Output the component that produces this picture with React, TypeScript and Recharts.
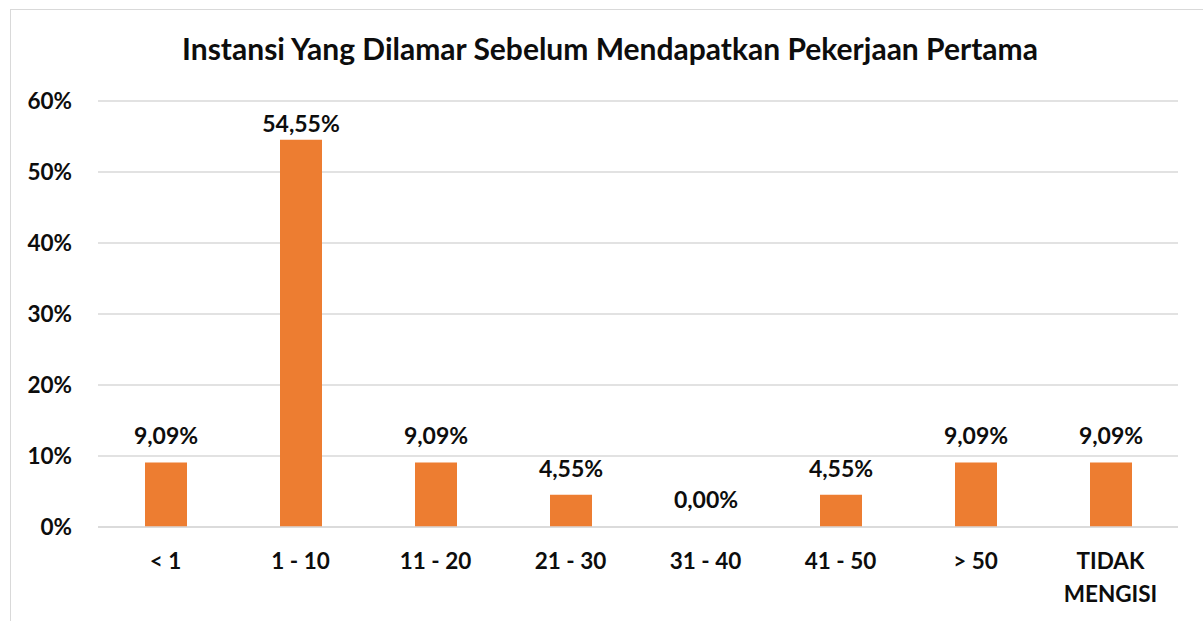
import React from 'react';
import { BarChart, Bar, XAxis, YAxis, CartesianGrid, LabelList, Cell, Text } from 'recharts';

const categories = ['< 1', '1 - 10', '11 - 20', '21 - 30', '31 - 40', '41 - 50', '> 50', 'TIDAK MENGISI'];
const percentages = [9.09, 54.55, 9.09, 4.55, 0, 4.55, 9.09, 9.09];
const yTicks = [0, 10, 20, 30, 40, 50, 60];

const chartData = categories.map((name, i) => ({ name, value: percentages[i] }));

const FONT = 'Lato, "Open Sans", sans-serif';
const INK = '#0d0d0d';
const PLOT_TOP = 101;

// category labels wrap like the spreadsheet ("TIDAK MENGISI" goes onto two lines)
const CategoryTick = (props: any) => {
  const { x, y, payload } = props;
  return (
    <Text
      x={x}
      y={y}
      width={120}
      textAnchor="middle"
      verticalAnchor="start"
      lineHeight={33}
      fontFamily={FONT}
      fontWeight={700}
      fontSize={22.5}
      fill={INK}
    >
      {payload.value}
    </Text>
  );
};

// value label above the bar, kept inside the plot area like Excel does for the tall bar
const ValueLabel = (props: any) => {
  const { x, y, width, value } = props;
  const baseline = Math.max(Number(y) - 18, PLOT_TOP + 31);
  return (
    <text
      x={Number(x) + Number(width) / 2}
      y={baseline}
      textAnchor="middle"
      fontFamily={FONT}
      fontWeight={700}
      fontSize={23}
      fill={INK}
    >
      {`${Number(value).toFixed(2).replace('.', ',')}%`}
    </text>
  );
};

export default function App() {
  return (
    <div style={{ position: 'absolute', left: 0, top: 0, width: 1203, height: 621, background: '#fff', overflow: 'hidden' }}>
      <div
        style={{
          position: 'absolute',
          left: 10,
          top: 9,
          width: 1200,
          height: 620,
          border: '1px solid #d9d9d9',
          boxSizing: 'border-box',
        }}
      />
      <div
        style={{
          position: 'absolute',
          left: 0,
          top: 30,
          width: 1220,
          lineHeight: '36px',
          textAlign: 'center',
          fontFamily: FONT,
          fontWeight: 700,
          fontSize: 30,
          color: INK,
        }}
      >
        Instansi Yang Dilamar Sebelum Mendapatkan Pekerjaan Pertama
      </div>
      <div style={{ position: 'absolute', left: 0, top: 0 }}>
        <BarChart
          width={1203}
          height={621}
          data={chartData}
          margin={{ top: PLOT_TOP, right: 25, left: 0, bottom: 64 }}
        >
          <CartesianGrid stroke="#d9d9d9" strokeWidth={1.5} vertical={false} />
          <XAxis
            dataKey="name"
            height={30}
            axisLine={{ stroke: '#d9d9d9', strokeWidth: 1.5 }}
            tickLine={false}
            tickSize={0}
            tickMargin={26}
            interval={0}
            tick={<CategoryTick />}
          />
          <YAxis
            width={98}
            domain={[0, 60]}
            ticks={yTicks}
            axisLine={false}
            tickLine={false}
            tickSize={0}
            tickMargin={26}
            tickFormatter={(v) => `${v}%`}
            tick={{ fontFamily: FONT, fontWeight: 700, fontSize: 22.5, fill: INK }}
          />
          <Bar dataKey="value" fill="#ed7d31" barSize={42} minPointSize={1} isAnimationActive={false}>
            {chartData.map((d, i) => (
              <Cell key={`cell-${i}`} fill={d.value === 0 ? 'transparent' : '#ed7d31'} />
            ))}
            <LabelList dataKey="value" content={<ValueLabel />} />
          </Bar>
        </BarChart>
      </div>
    </div>
  );
}
